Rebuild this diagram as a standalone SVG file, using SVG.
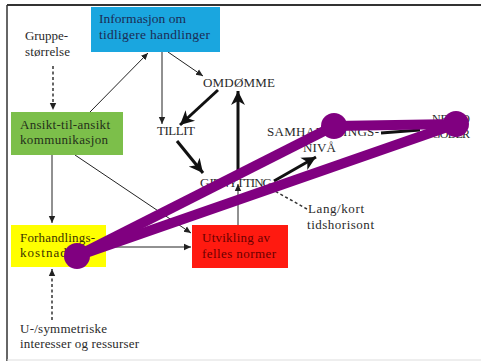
<svg xmlns="http://www.w3.org/2000/svg" width="481" height="361" viewBox="0 0 481 361" font-family="'Liberation Serif', 'Times New Roman', serif">
<defs>
<style>
text{font-family:"Liberation Serif","Times New Roman",serif;fill:#2a2a2a}
.thin{stroke:#222;stroke-width:1;fill:none}
.thick{stroke:#111;stroke-width:3;fill:none}
.dash{stroke:#333;stroke-width:1.5;fill:none;stroke-dasharray:3 2.5}
.purple{stroke:#800080;stroke-width:10;fill:none}
</style>
<marker id="a" markerUnits="userSpaceOnUse" markerWidth="8" markerHeight="8" refX="7" refY="4" orient="auto">
<path d="M0,0.8 L7,4 L0,7.2 z" fill="#222"/>
</marker>
<marker id="b" markerUnits="userSpaceOnUse" markerWidth="16" markerHeight="16" refX="14" refY="8" orient="auto">
<path d="M0,1 L14,8 L0,15 L4,8 z" fill="#111"/>
</marker>
</defs>
<rect width="481" height="361" fill="#fff"/>
<g id="frame">
<line x1="7" y1="5" x2="481" y2="5" stroke="#333" stroke-width="2"/>
<line x1="7" y1="5" x2="7" y2="361" stroke="#333" stroke-width="1.5"/>
<line x1="7" y1="360" x2="481" y2="360" stroke="#ddd" stroke-width="1"/>
</g>
<g id="connectors">
<line class="dash" x1="53" y1="66" x2="53" y2="110" marker-end="url(#a)"/>
<line class="thin" x1="90" y1="112" x2="148" y2="53" marker-end="url(#a)"/>
<line class="thin" x1="162" y1="52" x2="162" y2="124" marker-end="url(#a)"/>
<line class="thin" x1="168" y1="52" x2="203" y2="76" marker-end="url(#a)"/>
<line class="thick" x1="218" y1="90" x2="180" y2="125" marker-end="url(#b)"/>
<line class="thick" x1="177" y1="141" x2="203" y2="173" marker-end="url(#b)"/>
<line class="thick" x1="238" y1="178" x2="238" y2="91" marker-end="url(#b)"/>
<line class="thick" x1="274" y1="181" x2="316" y2="157" marker-end="url(#b)"/>
<line class="thick" x1="381" y1="133" x2="420" y2="130"/>
<line class="thin" x1="238" y1="225" x2="238" y2="184" marker-end="url(#a)"/>
<line class="dash" x1="307" y1="209" x2="273" y2="190"/>
<line class="thin" x1="52" y1="155" x2="52" y2="223" marker-end="url(#a)"/>
<line class="thin" x1="75" y1="155" x2="191" y2="233" marker-end="url(#a)"/>
<line class="thin" x1="106" y1="247" x2="191" y2="247" marker-end="url(#a)"/>
<line class="dash" x1="52" y1="320" x2="52" y2="269" marker-end="url(#a)"/>
</g>
<g id="info" font-size="13.5">
<rect x="91" y="7" width="129" height="45" fill="#1aa6df"/>
<text x="99" y="23" textLength="87" style="fill:#1c2c55">Informasjon om</text>
<text x="99" y="39" textLength="111" style="fill:#1c2c55">tidligere handlinger</text>
</g>
<g id="gruppe" font-size="13">
<text x="25" y="40" textLength="43">Gruppe-</text>
<text x="25" y="56" textLength="45">størrelse</text>
</g>
<g id="ansikt" font-size="13">
<rect x="11" y="112" width="112" height="43" fill="#7cbf4a"/>
<text x="20" y="129" textLength="90" style="fill:#24301a">Ansikt-til-ansikt</text>
<text x="20" y="144" textLength="88" style="fill:#24301a">kommunikasjon</text>
</g>
<g id="omdomme" font-size="13"><text x="203" y="87" textLength="72">OMDØMME</text></g>
<g id="tillit" font-size="13"><text x="157" y="135" textLength="38">TILLIT</text></g>
<g id="gjenytting" font-size="13"><text x="200" y="187" textLength="72">GJENYTTING</text></g>
<g id="samhandling" font-size="13">
<text x="267" y="136" textLength="112">SAMHANDLINGS-</text>
<text x="303" y="152" textLength="33">NIVÅ</text>
</g>
<g id="netto" font-size="12">
<text x="432" y="123" textLength="38">NETTO</text>
<text x="432" y="138" textLength="38">GODER</text>
</g>
<g id="tidshorisont" font-size="13">
<text x="308" y="213" textLength="56">Lang/kort</text>
<text x="307" y="229" textLength="67">tidshorisont</text>
</g>
<g id="forhandling" font-size="13">
<rect x="11" y="225" width="95" height="42" fill="#ffff00"/>
<text x="20" y="242" textLength="75" style="fill:#3a3300">Forhandlings-</text>
<text x="20" y="257" textLength="59" style="fill:#3a3300">kostnader</text>
</g>
<g id="normer" font-size="13">
<rect x="192" y="225" width="96" height="43" fill="#ff1a10"/>
<text x="202" y="242" textLength="68" style="fill:#6a0000">Utvikling av</text>
<text x="202" y="258" textLength="74" style="fill:#6a0000">felles normer</text>
</g>
<g id="symmetriske" font-size="13">
<text x="20" y="333" textLength="87">U-/symmetriske</text>
<text x="20" y="348" textLength="119">interesser og ressurser</text>
</g>
<g id="overlay">
<line class="purple" x1="77" y1="256" x2="334" y2="126"/>
<line class="purple" x1="77" y1="256" x2="456" y2="124"/>
<line class="purple" x1="334" y1="126" x2="456" y2="124"/>
<circle cx="77" cy="256" r="13" fill="#800080"/>
<circle cx="334" cy="126" r="13" fill="#800080"/>
<circle cx="456" cy="124" r="13" fill="#800080"/>
</g>
</svg>
